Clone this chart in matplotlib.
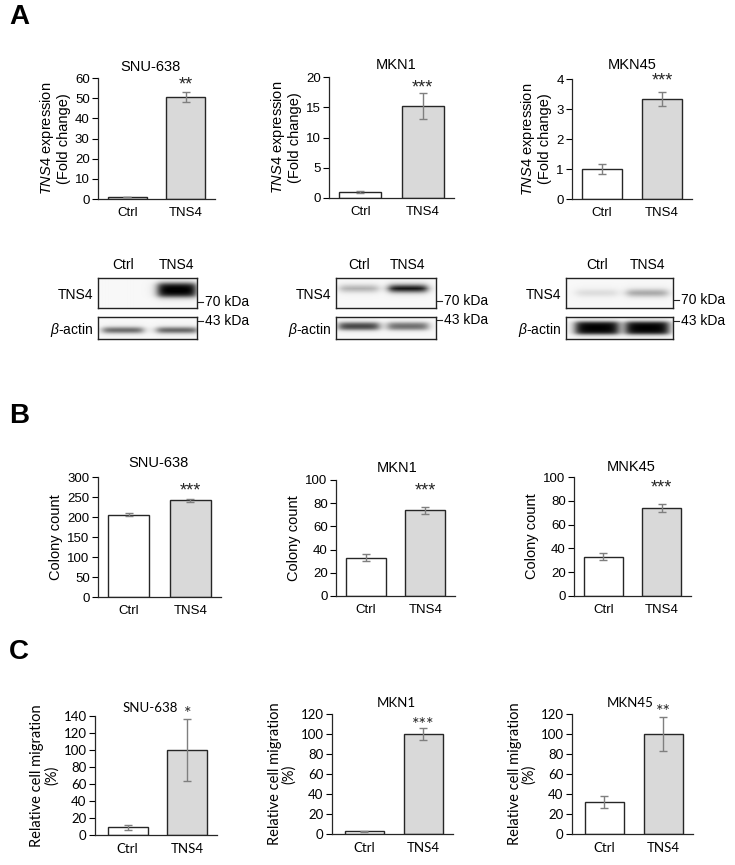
import matplotlib.pyplot as plt
import numpy as np
from matplotlib.lines import Line2D

plt.rcParams['font.family'] = ['Liberation Sans', 'DejaVu Sans']
plt.rcParams['mathtext.fontset'] = 'custom'
plt.rcParams['mathtext.rm'] = 'Liberation Sans'
plt.rcParams['mathtext.it'] = 'Liberation Sans:italic'

W, H = 735, 865

groups = ['Ctrl', 'TNS4']

# panel A - qPCR
a_lines = ['SNU-638', 'MKN1', 'MKN45']
a_means = [[1.0, 50.5], [1.0, 15.2], [1.0, 3.33]]
a_errs = [[0.2, 2.6], [0.1, 2.1], [0.17, 0.23]]
a_stars = ['**', '***', '***']
a_ymax = [60, 20, 4]
a_ystep = [10, 5, 1]

# panel A - western blots, band intensity per lane (Ctrl, TNS4)
blot_tns4 = [[0.0, 1.0], [0.3, 1.0], [0.12, 0.35]]
blot_actin = [[0.6, 0.62], [0.72, 0.55], [0.97, 0.97]]

# panel B - colony formation
b_lines = ['SNU-638', 'MKN1', 'MNK45']
b_means = [[206, 242], [33, 74], [33, 74]]
b_errs = [[3, 4], [3, 3], [3, 3]]
b_stars = ['***', '***', '***']
b_ymax = [300, 100, 100]
b_ystep = [50, 20, 20]

# panel C - migration
c_lines = ['SNU-638', 'MKN1', 'MKN45']
c_means = [[9, 100], [3, 100], [32, 100]]
c_errs = [[3, 37], [0.5, 6], [6, 17]]
c_stars = ['*', '***', '**']
c_ymax = [140, 120, 120]
c_ystep = [20, 20, 20]


def box(x0, y0, x1, y1):
    return [x0 / W, 1 - y1 / H, (x1 - x0) / W, (y1 - y0) / H]


def bar_panel(ax, means, errs, star, ymax, ystep, ylabel, title, title_xy,
              star_off, font, fs, title_fs, xl=-0.5):
    x = np.arange(len(groups))
    ax.bar(x, means, width=0.67, color=['white', '#d9d9d9'],
           edgecolor='#262626', linewidth=1.0, zorder=2)
    ax.errorbar(x, means, yerr=errs, fmt='none', ecolor='#7f7f7f',
                elinewidth=1.0, capsize=3, capthick=1.0, zorder=3)
    ax.set_xlim(xl, 1.5)
    ax.set_ylim(0, ymax)
    ax.set_yticks(np.arange(0, ymax + ystep / 2, ystep))
    ax.set_xticks(x)
    ax.set_xticklabels(groups, family=font, fontsize=fs)
    for lb in ax.get_yticklabels():
        lb.set_family(font)
        lb.set_fontsize(fs)
    ax.tick_params(axis='x', length=0, pad=6)
    ax.tick_params(axis='y', length=4, width=0.8, pad=2)
    for s in ['top', 'right']:
        ax.spines[s].set_visible(False)
    for s in ['left', 'bottom']:
        ax.spines[s].set_linewidth(0.9)
        ax.spines[s].set_color('#262626')
    ax.set_ylabel(ylabel, family=font, fontsize=fs + 1, linespacing=1.05,
                  labelpad=3)
    fig.text(title_xy[0] / W, 1 - title_xy[1] / H, title, family=font,
             fontsize=title_fs, ha='center', va='center')
    top = means[1] + errs[1]
    ax.annotate(star, (1, top), xytext=(0, star_off), textcoords='offset pixels',
                ha='center', va='center', fontsize=fs + 3.5, family=font,
                color='#262626')


def band_image(ax, lane_x, lane_hw, inten, yc, yh, nx, ny):
    xs = (np.arange(nx) + 0.5) / nx
    ys = (np.arange(ny) + 0.5) / ny
    img = np.full((ny, nx), 0.03)
    fy = 1 / (1 + np.exp((np.abs(ys - yc) - yh) / 0.05))
    for cx, v in zip(lane_x, inten):
        fx = 1 / (1 + np.exp((np.abs(xs - cx) - lane_hw) / 0.025))
        img += v * np.outer(fy, fx)
    ax.imshow(np.clip(img, 0, 1), cmap='gray_r', vmin=0, vmax=1,
              aspect='auto', interpolation='bilinear', extent=(0, 1, 1, 0))
    ax.set_xticks([])
    ax.set_yticks([])
    for s in ax.spines.values():
        s.set_linewidth(1.0)
        s.set_color('#222222')


fig = plt.figure(figsize=(W / 100, H / 100), dpi=100)

# panel letters
for lt, yy in zip(['A', 'B', 'C'], [17, 416, 652]):
    fig.text(9 / W, 1 - yy / H, lt, fontsize=20, fontweight='bold',
             va='center', ha='left')

# A bar charts
a_boxes = [(98, 78, 215, 199), (329, 77, 454, 198), (572, 79, 692, 199)]
a_titles = [(150, 67), (396, 65), (632, 65)]
a_off = [7, 5, 11]
for i in range(3):
    ax = fig.add_axes(box(*a_boxes[i]))
    bar_panel(ax, a_means[i], a_errs[i], a_stars[i], a_ymax[i], a_ystep[i],
              r'$\it{TNS4}$ expression' + '\n(Fold change)', a_lines[i],
              a_titles[i], a_off[i], 'Liberation Sans', 9.5, 10.5)

# A blots
blot_x = [(98, 197), (336, 436), (566, 673)]
lane_pos = [[0.25, 0.79], [0.23, 0.72], [0.29, 0.76]]
tns4_y = [(0.4, 0.22), (0.35, 0.1), (0.5, 0.1)]
actin_y = [(0.6, 0.12), (0.42, 0.16), (0.5, 0.28)]
kda_y = [(302, 321), (301, 320), (300, 321)]
for i in range(3):
    x0, x1 = blot_x[i]
    ax1 = fig.add_axes(box(x0, 278, x1, 308))
    band_image(ax1, lane_pos[i], 0.19, blot_tns4[i], tns4_y[i][0],
               tns4_y[i][1], x1 - x0, 30)
    ax2 = fig.add_axes(box(x0, 317, x1, 339))
    band_image(ax2, lane_pos[i], 0.2, blot_actin[i], actin_y[i][0],
               actin_y[i][1], x1 - x0, 22)
    for g, lx in zip(groups, lane_pos[i]):
        fig.text((x0 + lx * (x1 - x0)) / W, 1 - 265 / H, g, fontsize=10,
                 ha='center', va='center')
    fig.text((x0 - 5) / W, 1 - 295 / H, 'TNS4', fontsize=10, ha='right',
             va='center')
    fig.text((x0 - 5) / W, 1 - 330 / H, r'$\it{\beta}$-actin', fontsize=10,
             ha='right', va='center')
    for lab, yy in zip(['70 kDa', '43 kDa'], kda_y[i]):
        fig.add_artist(Line2D([(x1 + 1) / W, (x1 + 6) / W],
                              [1 - yy / H, 1 - yy / H], color='#222222',
                              lw=0.8))
        fig.text((x1 + 8) / W, 1 - yy / H, lab, fontsize=10, ha='left',
                 va='center')

# B bar charts
b_boxes = [(98, 477, 221, 597), (336, 480, 455, 596), (574, 477, 691, 596)]
b_titles = [(158, 463), (397, 468), (631, 467)]
b_off = [8, 16, 16]
for i in range(3):
    ax = fig.add_axes(box(*b_boxes[i]))
    bar_panel(ax, b_means[i], b_errs[i], b_stars[i], b_ymax[i], b_ystep[i],
              'Colony count', b_lines[i], b_titles[i], b_off[i],
              'Liberation Sans', 9.5, 10.5)

# C bar charts
c_boxes = [(95, 716, 217, 835), (332, 714, 453, 834), (572, 714, 693, 834)]
c_titles = [(150, 708), (396, 703), (630, 703)]
c_off = [5, 3, 5]
for i in range(3):
    ax = fig.add_axes(box(*c_boxes[i]))
    bar_panel(ax, c_means[i], c_errs[i], c_stars[i], c_ymax[i], c_ystep[i],
              'Relative cell migration\n(%)', c_lines[i], c_titles[i],
              c_off[i], 'Lato', 9.5, 9.5, xl=-0.55)

fig.savefig('out.png', dpi=100)
